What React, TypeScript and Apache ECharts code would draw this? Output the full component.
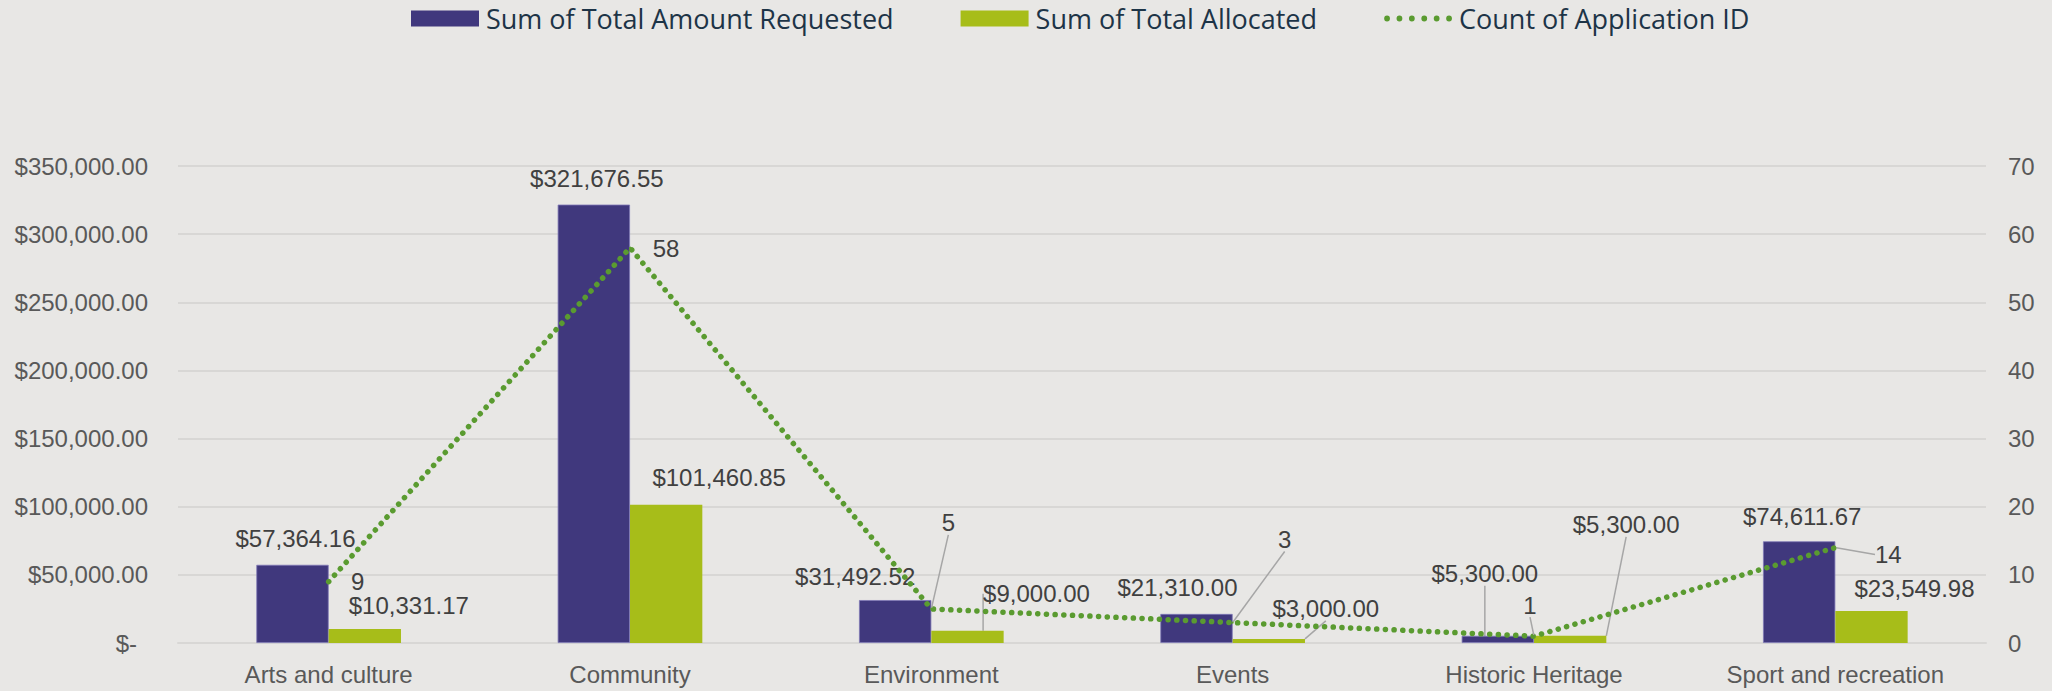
import React, { useEffect, useRef } from 'react';
import * as echarts from 'echarts';

// ---- data ----
const categories = [
  'Arts and culture',
  'Community',
  'Environment',
  'Events',
  'Historic Heritage',
  'Sport and recreation',
];
const amountRequested = [57364.16, 321676.55, 31492.52, 21310.0, 5300.0, 74611.67];
const amountAllocated = [10331.17, 101460.85, 9000.0, 3000.0, 5300.0, 23549.98];
const applicationCount = [9, 58, 5, 3, 1, 14];

const moneyAxisTicks = [0, 50000, 100000, 150000, 200000, 250000, 300000, 350000];
const countAxisTicks = [0, 10, 20, 30, 40, 50, 60, 70];

const seriesNames = ['Sum of Total Amount Requested', 'Sum of Total Allocated', 'Count of Application ID'];

// ---- label placement (style only: pixel shifts from default position) ----
const requestedShift = [[3, -9], [3, -9], [-40, -7], [-19, -9], [-13, -45], [3, -8]];
const requestedLeader = [false, false, false, false, true, false];
const allocatedShift = [[44, -6], [53, -10], [69, -20], [57, -13], [56, -94], [43, -5]];
const allocatedLeader = [false, false, true, true, true, false];
const countShift = [[29, 18], [36, 19], [17, -68], [52, -65], [-4, -13], [53, 25]];
const countLeader = [false, false, true, true, true, true];

const BLUE = '#40387d';
const LIME = '#a7bd19';
const GREEN = '#5a9b30';
const BG = '#e8e7e5';
const GRID = '#d8d7d5';
const LABEL = '#404040';
const AXIS = '#595959';
const LEADER = '#a6a6a6';

const money = (v: number) =>
  '$' + v.toLocaleString('en-US', { minimumFractionDigits: 2, maximumFractionDigits: 2 });

function dotsIcon() {
  let d = 'M0 0 M68 16 ';
  const r = 2.9;
  for (let k = 0; k < 6; k++) {
    const cx = 3 + k * 12.4;
    d += `M${cx - r} 8 a${r} ${r} 0 1 0 ${2 * r} 0 a${r} ${r} 0 1 0 ${-2 * r} 0 Z `;
  }
  return 'path://' + d;
}

export default function App() {
  const ref = useRef<HTMLDivElement>(null);
  useEffect(() => {
    document.body.style.margin = '0';
    document.body.style.background = BG;
    const chart = echarts.init(ref.current!, null, { renderer: 'svg' });
    const labelFont = {
      fontFamily: '"Liberation Sans", Arial, sans-serif',
      fontSize: 24,
      color: LABEL,
    };
    const leaderStyle = { lineStyle: { color: LEADER, width: 1.5 } };
    chart.setOption({
      animation: false,
      backgroundColor: BG,
      legend: {
        top: 0,
        left: 406,
        itemWidth: 68,
        itemHeight: 16,
        itemGap: 67,
        textStyle: {
          fontFamily: '"Open Sans", sans-serif',
          fontSize: 27,
          color: '#1d3447',
          padding: [0, 0, 0, 2],
        },
        data: [
          { name: seriesNames[0], icon: 'rect', itemStyle: { color: BLUE, borderWidth: 0 } },
          { name: seriesNames[1], icon: 'rect', itemStyle: { color: LIME, borderWidth: 0 } },
          { name: seriesNames[2], icon: dotsIcon(), itemStyle: { color: GREEN, borderWidth: 0 } },
        ],
      },
      grid: { left: 178, right: 66, top: 166, bottom: 48 },
      xAxis: {
        type: 'category',
        data: categories,
        axisTick: { show: false },
        axisLine: { show: true, lineStyle: { color: GRID, width: 2 } },
        axisLabel: {
          fontFamily: '"Liberation Sans", Arial, sans-serif',
          fontSize: 24,
          color: AXIS,
          margin: 19,
          interval: 0,
        },
      },
      yAxis: [
        {
          type: 'value',
          min: moneyAxisTicks[0],
          max: moneyAxisTicks[moneyAxisTicks.length - 1],
          interval: moneyAxisTicks[1] - moneyAxisTicks[0],
          axisLine: { show: false },
          axisTick: { show: false },
          splitLine: { lineStyle: { color: GRID, width: 2 } },
          axisLabel: {
            margin: 30,
            formatter: (v: number) => (v === 0 ? '{z|$-}' : money(v)),
            fontFamily: '"Liberation Sans", Arial, sans-serif',
            fontSize: 24,
            color: AXIS,
            rich: {
              z: {
                fontFamily: '"Liberation Sans", Arial, sans-serif',
                fontSize: 24,
                color: AXIS,
                padding: [0, 11, 0, 0],
              },
            },
          },
        },
        {
          type: 'value',
          min: countAxisTicks[0],
          max: countAxisTicks[countAxisTicks.length - 1],
          interval: countAxisTicks[1] - countAxisTicks[0],
          axisLine: { show: false },
          axisTick: { show: false },
          splitLine: { show: false },
          axisLabel: {
            margin: 22,
            fontFamily: '"Liberation Sans", Arial, sans-serif',
            fontSize: 24,
            color: AXIS,
          },
        },
      ],
      series: [
        {
          name: seriesNames[0],
          type: 'bar',
          yAxisIndex: 0,
          barGap: '0%',
          barCategoryGap: '52%',
          itemStyle: { color: BLUE, borderColor: '#7d77b5', borderWidth: 0.8 },
          data: amountRequested.map((v, i) => ({ value: v, labelLine: { show: requestedLeader[i] } })),
          label: { show: true, position: 'top', formatter: (p: any) => money(p.value), ...labelFont },
          labelLine: leaderStyle,
          labelLayout: (p: any) => ({ dx: requestedShift[p.dataIndex][0], dy: requestedShift[p.dataIndex][1] }),
        },
        {
          name: seriesNames[1],
          type: 'bar',
          yAxisIndex: 0,
          barGap: '0%',
          barCategoryGap: '52%',
          itemStyle: { color: LIME },
          data: amountAllocated.map((v, i) => ({ value: v, labelLine: { show: allocatedLeader[i] } })),
          label: { show: true, position: 'top', formatter: (p: any) => money(p.value), ...labelFont },
          labelLine: leaderStyle,
          labelLayout: (p: any) => ({ dx: allocatedShift[p.dataIndex][0], dy: allocatedShift[p.dataIndex][1] }),
        },
        {
          name: seriesNames[2],
          type: 'line',
          yAxisIndex: 1,
          z: 5,
          symbol: 'circle',
          symbolSize: 2,
          showSymbol: true,
          itemStyle: { color: GREEN },
          lineStyle: { color: GREEN, width: 5.5, type: [0.1, 8.6], cap: 'round' },
          data: applicationCount.map((v, i) => ({ value: v, labelLine: { show: countLeader[i] } })),
          label: { show: true, position: 'top', ...labelFont },
          labelLine: leaderStyle,
          labelLayout: (p: any) => ({ dx: countShift[p.dataIndex][0], dy: countShift[p.dataIndex][1] }),
        },
      ],
    });
    return () => chart.dispose();
  }, []);
  return (
    <div
      ref={ref}
      style={{ position: 'fixed', left: 0, top: 0, width: 2052, height: 691, background: BG }}
    />
  );
}
